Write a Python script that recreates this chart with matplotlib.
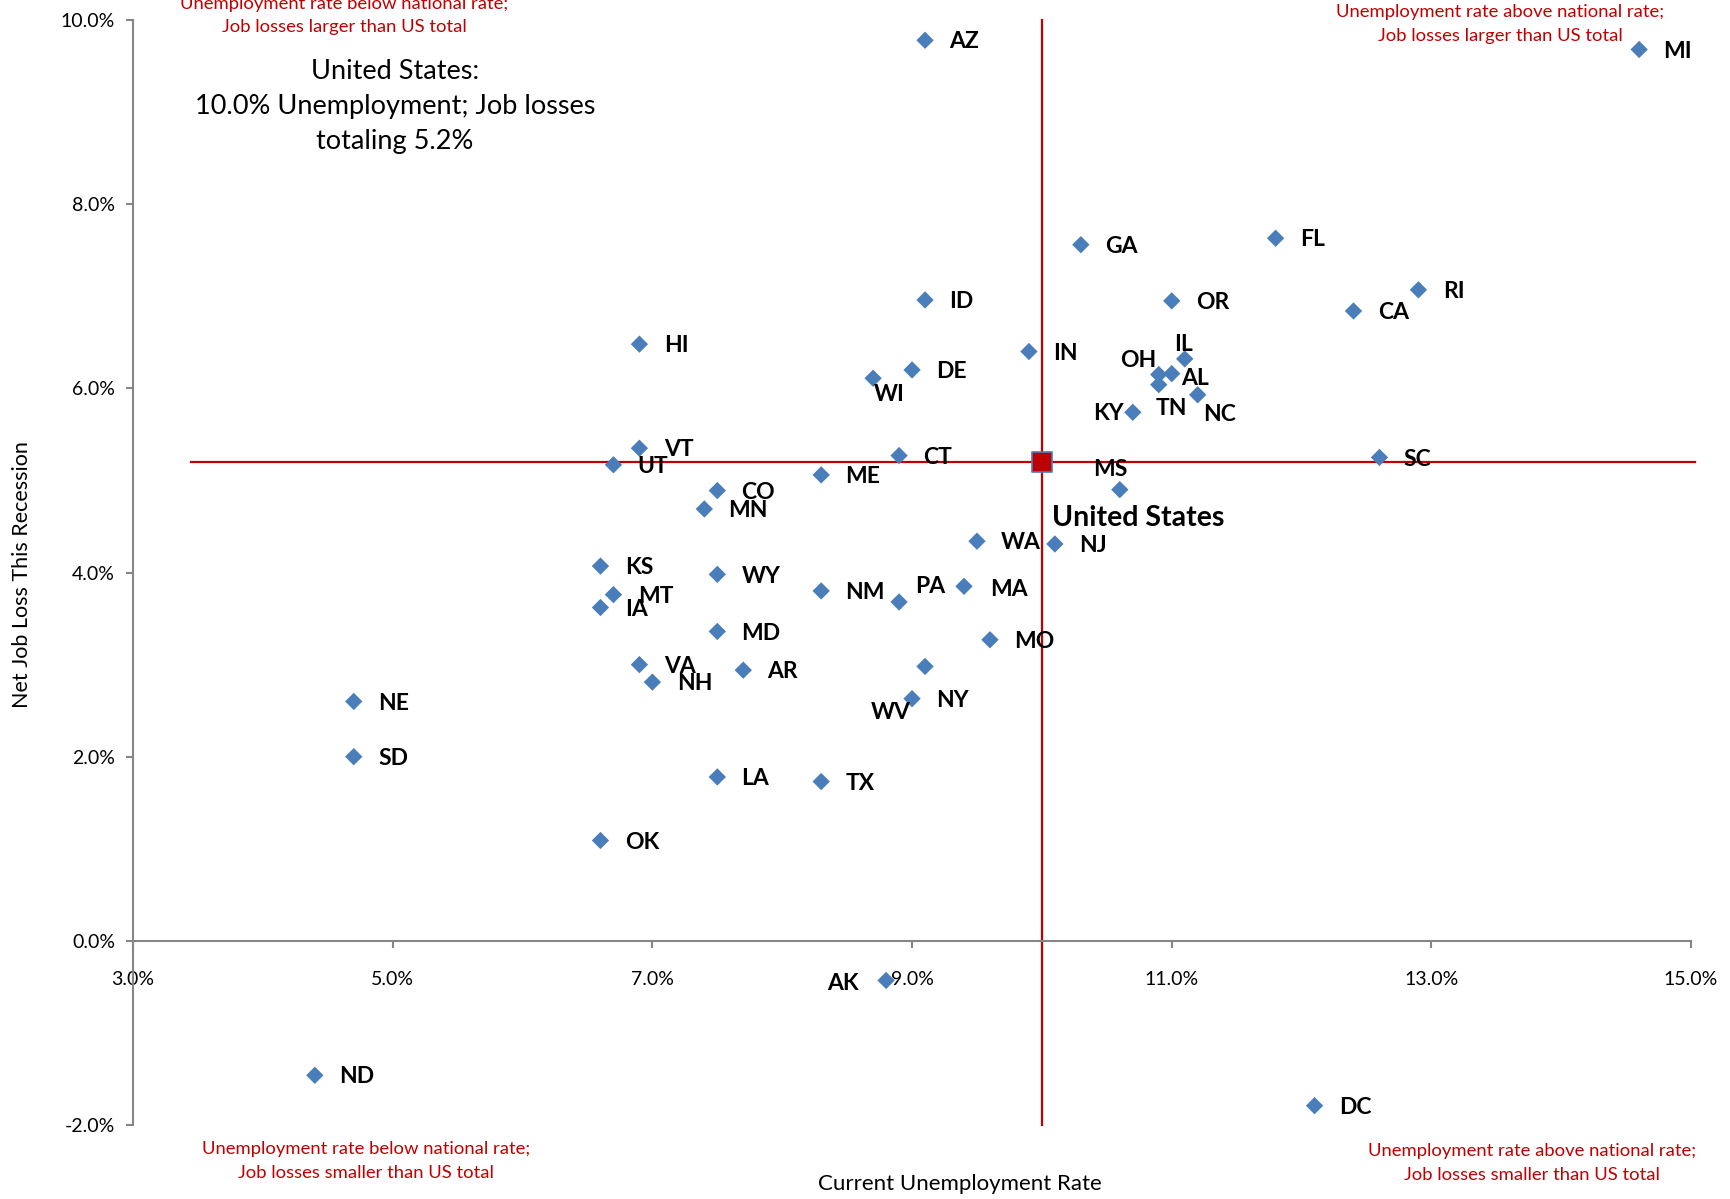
import matplotlib
matplotlib.use("Agg")
import matplotlib.pyplot as plt
from matplotlib.ticker import FuncFormatter

plt.rcParams['font.family'] = ['Lato', 'DejaVu Sans']

# State data: current unemployment rate (%) and net job loss this recession (%)
states = ["AZ", "MI", "GA", "FL", "RI", "CA", "ID", "OR", "HI", "IN", "DE", "WI",
          "IL", "OH", "AL", "TN", "NC", "KY", "SC", "MS", "CT", "VT", "UT", "ME",
          "CO", "MN", "WA", "NJ", "KS", "WY", "MT", "IA", "NM", "PA", "MA", "MD",
          "MO", "VA", "NH", "AR", "WV", "NY", "NE", "SD", "LA", "TX", "OK", "AK",
          "ND", "DC"]
unemployment = [9.1, 14.6, 10.3, 11.8, 12.9, 12.4, 9.1, 11.0, 6.9, 9.9, 9.0, 8.7,
                11.1, 10.9, 11.0, 10.9, 11.2, 10.7, 12.6, 10.6, 8.9, 6.9, 6.7, 8.3,
                7.5, 7.4, 9.5, 10.1, 6.6, 7.5, 6.7, 6.6, 8.3, 8.9, 9.4, 7.5,
                9.6, 6.9, 7.0, 7.7, 9.1, 9.0, 4.7, 4.7, 7.5, 8.3, 6.6, 8.8,
                4.4, 12.1]
job_loss = [9.78, 9.68, 7.56, 7.63, 7.07, 6.84, 6.96, 6.95, 6.48, 6.40, 6.20, 6.11,
            6.32, 6.15, 6.16, 6.04, 5.93, 5.74, 5.25, 4.90, 5.27, 5.35, 5.17, 5.06,
            4.89, 4.69, 4.34, 4.31, 4.07, 3.98, 3.76, 3.62, 3.80, 3.68, 3.85, 3.36,
            3.27, 3.00, 2.81, 2.94, 2.98, 2.63, 2.60, 2.00, 1.78, 1.73, 1.09, -0.43,
            -1.46, -1.79]

us_unemployment = 10.0
us_job_loss = 5.2

x_ticks = [3, 5, 7, 9, 11, 13, 15]
y_ticks = [-2, 0, 2, 4, 6, 8, 10]

# Label placement (offset points from each marker)
label_offsets = {
    "WI": (0.8, -11.9), "IL": (-7.9, 10.3), "OH": (-27.8, 10.3), "AL": (7.1, -3.2),
    "TN": (-2.4, -17.5), "NC": (4.0, -14.3), "KY": (-28.6, -0.8), "MS": (-19.1, 14.3),
    "PA": (11.9, 11.1), "MA": (19.1, -2.4), "WV": (-38.9, -33.3), "AK": (-42.1, -2.4),
}
default_offset = (17.5, -1.2)

red = "#C00000"
blue = "#4A7EBB"

fig = plt.figure(figsize=(17.30, 11.99), dpi=100)
ax = fig.add_axes([0.0769, 0.0617, 0.9006, 0.9216])
ax.set_xlim(3, 15)
ax.set_ylim(-2, 10)

# Reference lines through the national values
ax.plot([3.45, 15.03], [us_job_loss, us_job_loss], color=red, lw=1.6, zorder=2, clip_on=False)
ax.plot([us_unemployment, us_unemployment], [-2, 10], color=red, lw=1.6, zorder=2, clip_on=False)

ax.scatter(unemployment, job_loss, marker="D", s=78, color=blue, edgecolors="none",
           zorder=3, clip_on=False)
ax.scatter([us_unemployment], [us_job_loss], marker="s", s=200, color=red,
           edgecolors=blue, linewidths=1.2, zorder=4)

for name, xv, yv in zip(states, unemployment, job_loss):
    dx, dy = label_offsets.get(name, default_offset)
    ax.annotate(name, (xv, yv), xytext=(dx, dy), textcoords="offset points",
                ha="left", va="center", fontsize=16.5, fontweight="bold", color="black",
                annotation_clip=False, zorder=5)
ax.annotate("United States", (us_unemployment, us_job_loss), xytext=(7.1, -40.5),
            textcoords="offset points", ha="left", va="center", fontsize=20.5,
            fontweight="bold", color="black", zorder=5)

# Axes styling
for side in ("top", "right"):
    ax.spines[side].set_visible(False)
ax.spines["bottom"].set_position(("data", 0))
for side in ("left", "bottom"):
    ax.spines[side].set_color("#868686")
    ax.spines[side].set_linewidth(1.5)
ax.set_xticks(x_ticks)
ax.set_yticks(y_ticks)
ax.xaxis.set_major_formatter(FuncFormatter(lambda v, p: f"{v:.1f}%"))
ax.yaxis.set_major_formatter(FuncFormatter(lambda v, p: f"{v:.1f}%"))
ax.tick_params(axis="both", direction="out", length=5, width=1.5, color="#868686",
               labelsize=14, labelcolor="black")
ax.tick_params(axis="x", pad=17)
ax.tick_params(axis="y", pad=8)

fig.text(0.013, 0.521, "Net Job Loss This Recession", rotation=90, ha="center",
         va="center", fontsize=15.5)
fig.text(0.555, 0.0125, "Current Unemployment Rate", ha="center", va="center", fontsize=16)

# Quadrant descriptions
quad_style = dict(ha="center", va="center", fontsize=13.3, color=red, linespacing=1.6)
fig.text(0.199, 0.987, "Unemployment rate below national rate;\nJob losses larger than US total",
         **quad_style)
fig.text(0.867, 0.980, "Unemployment rate above national rate;\nJob losses larger than US total",
         **quad_style)
fig.text(0.2115, 0.032, "Unemployment rate below national rate;\nJob losses smaller than US total",
         **quad_style)
fig.text(0.8855, 0.030, "Unemployment rate above national rate;\nJob losses smaller than US total",
         **quad_style)

fig.text(0.2283, 0.911, "United States:\n10.0% Unemployment; Job losses\ntotaling 5.2%",
         ha="center", va="center", fontsize=19.5, linespacing=1.5)

fig.savefig("out.png", dpi=100)
